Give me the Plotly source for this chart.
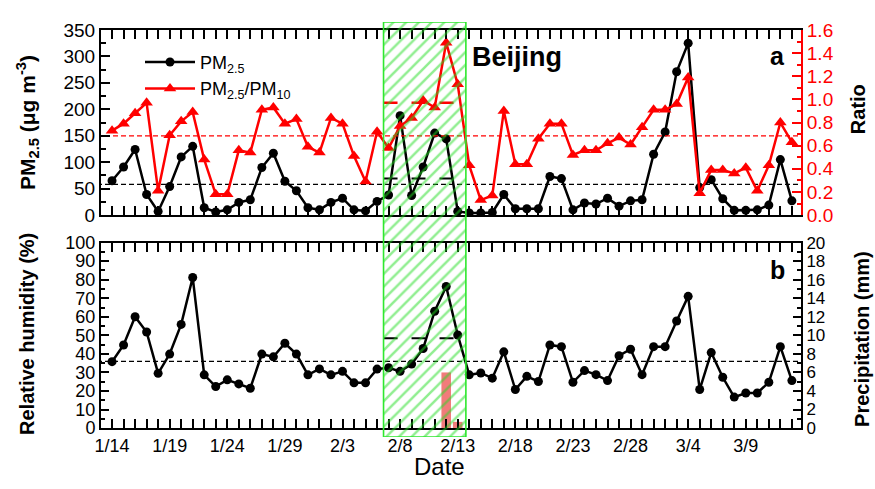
import pandas as pd
import plotly.graph_objects as go

# ---------------- data ----------------
start_date = "2016-01-14"
n_days = 60
dates = pd.date_range(start_date, periods=n_days, freq="D")

pm25 = [65, 91, 124, 39, 7, 54, 110, 130, 14, 6, 10, 24, 29, 90, 117, 64, 46, 14, 10, 24,
        32, 10, 8, 26, 38, 188, 37, 91, 155, 144, 7, 4, 4, 5, 39, 12, 12, 12, 73, 69,
        10, 23, 21, 32, 17, 27, 29, 115, 157, 271, 325, 52, 67, 31, 9, 9, 10, 19, 105, 27]

ratio = [0.73, 0.79, 0.88, 0.97, 0.21, 0.69, 0.81, 0.89, 0.48, 0.18, 0.18, 0.56, 0.54, 0.91, 0.93,
         0.79, 0.83, 0.59, 0.54, 0.84, 0.79, 0.51, 0.29, 0.72, 0.58, 0.77, 0.84, 0.99, 0.93, 1.49,
         1.13, 0.43, 0.13, 0.17, 0.90, 0.44, 0.44, 0.66, 0.79, 0.79, 0.52, 0.56, 0.56, 0.62, 0.67,
         0.61, 0.76, 0.91, 0.91, 0.96, 1.19, 0.19, 0.39, 0.39, 0.36, 0.41, 0.21, 0.43, 0.80, 0.63]

rh = [35.8, 44.8, 60.0, 51.8, 29.5, 39.9, 55.9, 81.2, 28.7, 22.4, 26.0, 23.8, 21.5, 39.9, 38.4,
      45.7, 39.9, 28.7, 31.9, 28.7, 30.6, 24.4, 24.4, 31.8, 32.5, 30.6, 34.5, 42.9, 63.0, 76.3,
      50.2, 28.7, 29.7, 26.9, 41.1, 20.8, 27.9, 25.1, 44.8, 43.9, 24.7, 31.0, 28.8, 25.6, 39.0,
      42.5, 28.8, 43.9, 43.9, 57.7, 71.0, 20.8, 40.7, 27.4, 16.7, 18.9, 18.9, 24.7, 43.9, 25.6]

precip_dates = ["2016-02-12", "2016-02-13"]
precip = [6.0, 0.67]

pm25_mean = 58
ratio_mean = 0.685
rh_mean = 36

period_start = "2016-02-06 13:30"
period_end = "2016-02-13 17:00"
period_pm25_mean = 69
period_ratio_mean = 0.97
period_rh_mean = 48.4

x_range = ["2016-01-13 01:00", "2016-03-13 19:00"]
x_tick_labels_start = "2016-01-14"

# ---------------- styling ----------------
FONT = "Liberation Sans, Arial, sans-serif"
NARROW = "Liberation Sans Narrow, Liberation Sans, Arial, sans-serif"
RED = "#ff0000"
GREEN = "#2ee82e"
DAY = 86400000

W, H = 875, 489
ML, MR, MT, MB = 101, 74, 18, 52
PW, PH = W - ML - MR, H - MT - MB


def px_x(px):
    return (px - ML) / PW


def px_y(py):
    return (H - MB - py) / PH


top_dom = [px_y(213), px_y(26)]
bot_dom = [px_y(428), px_y(240.7)]
ext = [dates[0] - pd.Timedelta(days=2), dates[-1] + pd.Timedelta(days=2)]

fig = go.Figure()

# bottom panel: RH
fig.add_trace(go.Scatter(x=dates, y=rh, mode="lines+markers", xaxis="x", yaxis="y",
                         line=dict(color="black", width=2.5),
                         marker=dict(symbol="circle", size=9, color="black"),
                         showlegend=False))
fig.add_trace(go.Scatter(x=ext, y=[rh_mean, rh_mean], mode="lines", xaxis="x", yaxis="y",
                         line=dict(color="black", width=1.3, dash="5px,3px"), showlegend=False))
fig.add_trace(go.Scatter(x=[period_start, period_end], y=[period_rh_mean] * 2, mode="lines",
                         xaxis="x", yaxis="y",
                         line=dict(color="black", width=2, dash="14px,14px"), showlegend=False))
# precipitation bars
fig.add_trace(go.Bar(x=precip_dates, y=precip, xaxis="x", yaxis="y2", width=0.83 * DAY,
                     marker=dict(color="rgba(240,100,100,0.85)", line=dict(width=0)),
                     showlegend=False))

# top panel: PM2.5 and ratio
fig.add_trace(go.Scatter(x=dates, y=pm25, mode="lines+markers", xaxis="x2", yaxis="y3",
                         name="PM<sub>2.5</sub>",
                         line=dict(color="black", width=2.5),
                         marker=dict(symbol="circle", size=9, color="black")))
fig.add_trace(go.Scatter(x=dates, y=ratio, mode="lines+markers", xaxis="x2", yaxis="y4",
                         name="PM<sub>2.5</sub>/PM<sub>10</sub>",
                         line=dict(color=RED, width=2.5),
                         marker=dict(symbol="triangle-up", size=11, color=RED)))
fig.add_trace(go.Scatter(x=ext, y=[pm25_mean] * 2, mode="lines", xaxis="x2", yaxis="y3",
                         line=dict(color="black", width=1.3, dash="5px,3px"), showlegend=False))
fig.add_trace(go.Scatter(x=ext, y=[ratio_mean] * 2, mode="lines", xaxis="x2", yaxis="y4",
                         line=dict(color=RED, width=1.3, dash="5px,3px"), showlegend=False))
fig.add_trace(go.Scatter(x=[period_start, period_end], y=[period_pm25_mean] * 2, mode="lines",
                         xaxis="x2", yaxis="y3",
                         line=dict(color="black", width=2, dash="14px,14px"), showlegend=False))
fig.add_trace(go.Scatter(x=[period_start, period_end], y=[period_ratio_mean] * 2, mode="lines",
                         xaxis="x2", yaxis="y4",
                         line=dict(color=RED, width=2.5, dash="14px,14px"), showlegend=False))

# hatched highlight box on an overlay axis spanning the whole plot area
ps, pe = pd.Timestamp(period_start), pd.Timestamp(period_end)
fig.add_trace(go.Bar(x=[ps + (pe - ps) / 2], y=[1], base=[0], width=[(pe - ps).total_seconds() * 1000],
                     xaxis="x3", yaxis="y5", showlegend=False, hoverinfo="skip",
                     marker=dict(color="rgba(0,0,0,0)",
                                 line=dict(color=GREEN, width=1.6),
                                 pattern=dict(shape="/", fgcolor="#22dd22", bgcolor="rgba(0,0,0,0)",
                                              size=9, solidity=0.28, fillmode="overlay"))))

xcommon = dict(type="date", range=x_range, tick0=x_tick_labels_start, dtick=5 * DAY,
               ticks="inside", ticklen=9, tickwidth=1.5, tickcolor="black",
               showline=True, linecolor="black", linewidth=2, mirror="allticks",
               showgrid=False, zeroline=False, tickformat="%-m/%-d",
               minor=dict(ticks="inside", ticklen=4.5, dtick=DAY, tick0=x_tick_labels_start,
                          tickcolor="black", tickwidth=1.5, showgrid=False))

fig.update_layout(
    width=W, height=H,
    margin=dict(l=ML, r=MR, t=MT, b=MB, pad=0),
    paper_bgcolor="white", plot_bgcolor="rgba(0,0,0,0)",
    font=dict(family=FONT, color="black", size=18),
    barmode="overlay",
    xaxis=dict(**xcommon, domain=[0, 1], anchor="y",
               tickfont=dict(family=FONT, size=18, color="black")),
    xaxis2=dict(**xcommon, domain=[0, 1], anchor="y3", matches="x", showticklabels=False),
    xaxis3=dict(type="date", range=x_range, domain=[0, 1], anchor="y5",
                visible=False, showgrid=False),
    yaxis=dict(domain=bot_dom, range=[0, 100], dtick=10, anchor="x",
               ticks="inside", ticklen=8, tickwidth=1.5, tickcolor="black",
               showline=True, linecolor="black", linewidth=2, mirror=False,
               showgrid=False, zeroline=False,
               tickfont=dict(family=NARROW, size=18, color="black"),
               minor=dict(ticks="inside", ticklen=4, dtick=5, tickcolor="black", tickwidth=1.5,
                          showgrid=False)),
    yaxis2=dict(range=[0, 20], dtick=2, overlaying="y", side="right", anchor="x",
                ticks="inside", ticklen=8, tickwidth=1.5, tickcolor="black",
                showline=True, linecolor="black", linewidth=2,
                showgrid=False, zeroline=False,
                tickfont=dict(family=NARROW, size=17, color="black"),
                minor=dict(ticks="inside", ticklen=4, dtick=1, tickcolor="black", tickwidth=1.5,
                           showgrid=False)),
    yaxis3=dict(domain=top_dom, range=[0, 350], dtick=50, anchor="x2",
                ticks="inside", ticklen=9, tickwidth=1.5, tickcolor="black",
                showline=True, linecolor="black", linewidth=2,
                showgrid=False, zeroline=False,
                tickfont=dict(family=FONT, size=19, color="black"),
                minor=dict(ticks="inside", ticklen=4.5, dtick=25, tickcolor="black", tickwidth=1.5,
                           showgrid=False)),
    yaxis4=dict(range=[0, 1.6], dtick=0.2, tickformat=".1f", overlaying="y3", side="right",
                anchor="x2",
                ticks="inside", ticklen=9, tickwidth=1.5, tickcolor=RED,
                showline=True, linecolor=RED, linewidth=2,
                showgrid=False, zeroline=False,
                tickfont=dict(family=FONT, size=19, color=RED),
                minor=dict(ticks="inside", ticklen=4.5, dtick=0.1, tickcolor=RED, tickwidth=1.5,
                           showgrid=False)),
    yaxis5=dict(domain=[0, 1], range=[0, 1], anchor="x3", visible=False, showgrid=False),
    legend=dict(x=px_x(140), y=px_y(40), xanchor="left", yanchor="top",
                bgcolor="rgba(0,0,0,0)", font=dict(family=FONT, size=18),
                itemwidth=50, tracegroupgap=0),
)

ann = [
    dict(text="<b>PM<sub>2.5</sub> (μg m<sup>-3</sup>)</b>", x=px_x(27), y=px_y(120), textangle=-90,
         font=dict(size=21)),
    dict(text="<b>Ratio</b>", x=px_x(858), y=px_y(106), textangle=-90, font=dict(size=20)),
    dict(text="<b>Relative humidity (%)</b>", x=px_x(27), y=px_y(333), textangle=-90,
         font=dict(size=20)),
    dict(text="<b>Precipitation (mm)</b>", x=px_x(862), y=px_y(338), textangle=-90,
         font=dict(size=20)),
    dict(text="Date", x=px_x(439), y=px_y(467), font=dict(size=24)),
    dict(text="<b>Beijing</b>", x=px_x(517), y=px_y(53), font=dict(size=27)),
    dict(text="<b>a</b>", x=px_x(777), y=px_y(52), font=dict(size=25)),
    dict(text="<b>b</b>", x=px_x(777), y=px_y(268), font=dict(size=25)),
]
for a in ann:
    a.update(xref="paper", yref="paper", showarrow=False, xanchor="center", yanchor="middle")
    a["font"] = dict(family=FONT, color="black", **a["font"])
fig.update_layout(annotations=ann)

fig.write_html("out.html", config={"displayModeBar": False},
               post_script="document.body.style.margin='0';")
